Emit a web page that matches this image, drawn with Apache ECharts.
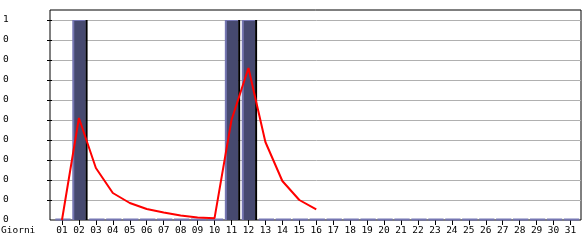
<!DOCTYPE html>
<html>
<head>
<meta charset="utf-8">
<script src="https://cdn.jsdelivr.net/npm/echarts@6/dist/echarts.min.js"></script>
<style>
html,body{margin:0;padding:0;background:#fff;}
#chart{width:585px;height:240px;}
</style>
</head>
<body>
<div id="chart"></div>
<script>
var categories = ['01','02','03','04','05','06','07','08','09','10','11','12','13','14','15','16','17','18','19','20','21','22','23','24','25','26','27','28','29','30','31'];
var barValues = [0,1,0,0,0,0,0,0,0,0,1,1,0,0,0,0,0,0,0,0,0,0,0,0,0,0,0,0,0,0,0];
var lineValues = [0,0.51,0.26,0.135,0.085,0.055,0.037,0.022,0.012,0.009,0.5,0.76,0.39,0.195,0.1,0.053];
var yTickLabels = ['0','0','0','0','0','0','0','0','0','0','1'];
var yTickMarks = [0.1,0.2,0.3,0.4,0.5,0.6,0.7,0.8,0.9,1];
var xAxisTitle = 'Giorni';

var FONT = 'DejaVu Sans Mono';
var FS = 9.5;
var LIGHT = '#7576b2';
var DARK = '#46496f';

var barData = barValues.map(function (v, i) { return [i, v]; });

var chart = echarts.init(document.getElementById('chart'), null, {renderer: 'canvas'});
chart.setOption({
  animation: false,
  backgroundColor: '#ffffff',
  grid: [
    {left: 50, right: 4, top: 10, bottom: 20, show: true, borderColor: '#000', borderWidth: 1, backgroundColor: 'transparent'},
    {left: 50, right: 4, top: 20, bottom: 20},
    {left: 53.5, right: 6, top: 20, bottom: 20}
  ],
  xAxis: [
    {gridIndex: 0, type: 'value', show: false},
    {gridIndex: 1, type: 'value', show: false},
    {gridIndex: 2, type: 'category', data: categories, boundaryGap: true,
      axisLine: {show: false},
      axisTick: {show: true, alignWithLabel: true, length: 5, lineStyle: {color: '#000', width: 1}},
      axisLabel: {interval: 0, margin: 6, fontFamily: FONT, fontSize: FS, color: '#000'},
      splitLine: {show: false}}
  ],
  yAxis: [
    {gridIndex: 0, type: 'value', show: false},
    {gridIndex: 1, type: 'value', min: 0, max: 1, interval: 0.1,
      axisLine: {show: false},
      axisTick: {show: true, length: 5, customValues: yTickMarks, lineStyle: {color: '#000', width: 1}},
      axisLabel: {margin: 49, align: 'left', fontFamily: FONT, fontSize: FS, color: '#000',
        formatter: function (v) { var k = Math.round(v * 10); return yTickLabels[k] !== undefined ? yTickLabels[k] : ''; }},
      splitLine: {show: true, lineStyle: {color: '#b0b0b0', width: 1}}},
    {gridIndex: 2, type: 'value', min: 0, max: 1, show: false}
  ],
  graphic: [
    {type: 'text', left: 1, top: 226, style: {text: xAxisTitle, font: FS + 'px "' + FONT + '"', fill: '#000'}}
  ],
  series: [
    {
      type: 'custom', xAxisIndex: 2, yAxisIndex: 2, data: barData, z: 2,
      encode: {x: 0, y: 1},
      renderItem: function (params, api) {
        var idx = api.value(0), v = api.value(1);
        var top = api.coord([idx, v]);
        var base = api.coord([idx, 0]);
        var band = api.size([1, 0])[0];
        var w = band * 0.785;
        var x0 = top[0] - w / 2;
        if (v <= 0) {
          return {type: 'rect', shape: {x: x0, y: base[1] - 1.5, width: w + 2, height: 2}, style: {fill: LIGHT}};
        }
        var h = base[1] - top[1];
        return {type: 'group', children: [
          {type: 'rect', shape: {x: x0, y: top[1], width: w, height: h}, style: {fill: LIGHT}},
          {type: 'rect', shape: {x: x0 + 2, y: top[1] + 1, width: w - 2, height: h - 1}, style: {fill: DARK}},
          {type: 'rect', shape: {x: x0 + w, y: top[1], width: 2, height: h}, style: {fill: '#000'}}
        ]};
      }
    },
    {
      type: 'line', xAxisIndex: 2, yAxisIndex: 2, data: lineValues, z: 3,
      symbol: 'none', smooth: false,
      lineStyle: {color: '#ff0000', width: 2}
    }
  ]
});
</script>
</body>
</html>
